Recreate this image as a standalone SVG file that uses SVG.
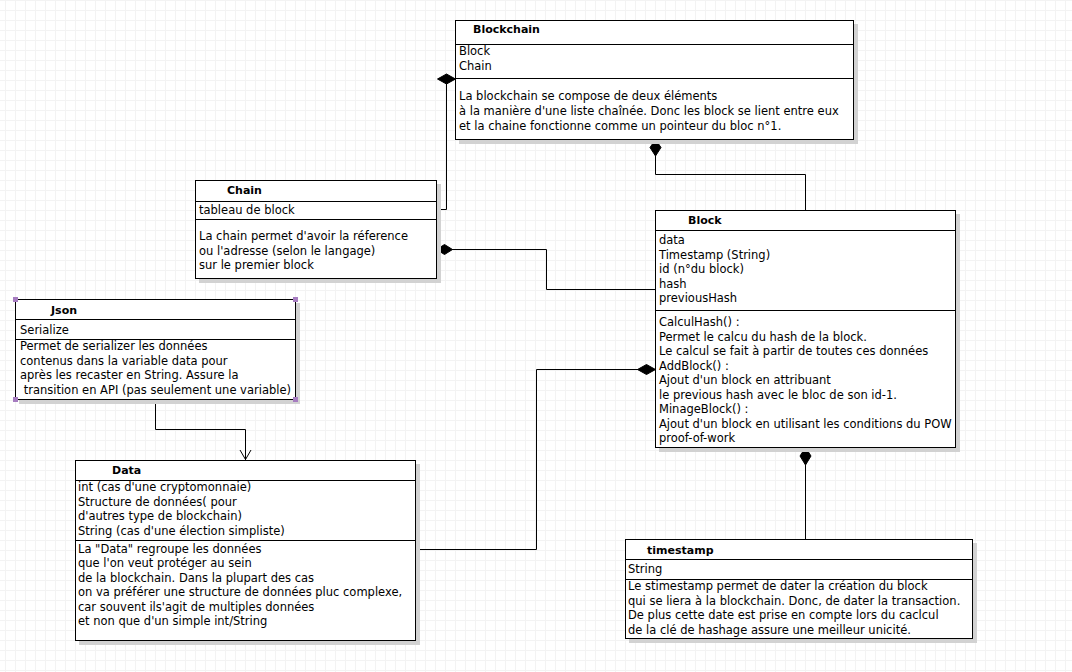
<svg xmlns="http://www.w3.org/2000/svg" width="1072" height="672" viewBox="0 0 1072 672">
  <style>
    text { font-family: "DejaVu Sans", "Liberation Sans", sans-serif; font-size: 11.5px; fill: #000; }
    .title { font-weight: bold; font-size: 11px; }
    .box { fill: #fff; stroke: #000; stroke-width: 1; }
    .shadow { fill: #d2d2d2; }
    .sep { stroke: #000; stroke-width: 1; fill: none; }
    .wire { stroke: #000; stroke-width: 1; fill: none; }
    .diamond { fill: #000; stroke: #000; stroke-width: 1; }
    .handle { fill: #a67cc0; }
  </style>
  <defs>
    <pattern id="grid" patternUnits="userSpaceOnUse" x="5" y="0" width="10" height="10">
      <path d="M0.5 0V10M0 0.5H10" stroke="#f3f3f3" stroke-width="1" fill="none"/>
    </pattern>
  </defs>

  <!-- canvas grid -->
  <rect width="1072" height="672" fill="#fff"/>
  <rect width="1072" height="672" fill="url(#grid)"/>

  <!-- connectors -->
  <g id="connectors">
    <!-- Blockchain ◆— Chain -->
    <polyline class="wire" points="446.5,83.5 446.5,209.5 436.5,209.5"/>
    <polygon class="diamond" points="437.5,79 446.5,74 455.5,79 446.5,84"/>
    <!-- Blockchain ◆— Block -->
    <polyline class="wire" points="655.5,156 655.5,174.5 805.5,174.5 805.5,210.5"/>
    <polygon class="diamond" points="655.5,139.5 661,147.5 655.5,156 650,147.5"/>
    <!-- Chain ◆— Block -->
    <polyline class="wire" points="452,249.5 546.5,249.5 546.5,289.5 655.5,289.5"/>
    <polygon class="diamond" points="436.5,249.5 444.5,244.5 452.5,249.5 444.5,254.5"/>
    <!-- Block ◆— Data -->
    <polyline class="wire" points="638,369.5 536.5,369.5 536.5,549.5 415.5,549.5"/>
    <polygon class="diamond" points="655.5,369.5 646.5,364.5 637.5,369.5 646.5,374.5"/>
    <!-- Block ◆— timestamp -->
    <polyline class="wire" points="805.5,465 805.5,539.5"/>
    <polygon class="diamond" points="805.5,447.5 811,456 805.5,465 800,456"/>
    <!-- Json → Data -->
    <polyline class="wire" points="155.5,399.5 155.5,429.5 245.5,429.5 245.5,460"/>
    <polyline class="wire" points="240,450 245.5,459.5 251,450"/>
  </g>

  <!-- Blockchain -->
  <g id="blockchain">
    <rect class="shadow" x="459" y="24" width="399" height="120"/>
    <rect class="box" x="455.5" y="20.5" width="398" height="119"/>
    <line class="sep" x1="455.5" y1="44.5" x2="853.5" y2="44.5"/>
    <line class="sep" x1="455.5" y1="78.5" x2="853.5" y2="78.5"/>
    <text class="title" x="473" y="33">Blockchain</text>
    <text x="459" y="55">Block</text>
    <text x="459" y="70">Chain</text>
    <text x="459" y="100">La blockchain se compose de deux éléments</text>
    <text x="459" y="115">à la manière d'une liste chaînée. Donc les block se lient entre eux</text>
    <text x="459" y="130">et la chaine fonctionne comme un pointeur du bloc n°1.</text>
  </g>

  <!-- Chain -->
  <g id="chain">
    <rect class="shadow" x="199" y="184" width="242" height="99"/>
    <rect class="box" x="195.5" y="180.5" width="241" height="98"/>
    <line class="sep" x1="195.5" y1="201.5" x2="436.5" y2="201.5"/>
    <line class="sep" x1="195.5" y1="219.5" x2="436.5" y2="219.5"/>
    <text class="title" x="227" y="194">Chain</text>
    <text x="199" y="213.5">tableau de block</text>
    <text x="199" y="240">La chain permet d'avoir la réference</text>
    <text x="199" y="254.5">ou l'adresse (selon le langage)</text>
    <text x="199" y="269">sur le premier block</text>
  </g>

  <!-- Block -->
  <g id="block">
    <rect class="shadow" x="659" y="214" width="301" height="238"/>
    <rect class="box" x="655.5" y="210.5" width="300" height="237"/>
    <line class="sep" x1="655.5" y1="230.5" x2="955.5" y2="230.5"/>
    <line class="sep" x1="655.5" y1="310.5" x2="955.5" y2="310.5"/>
    <text class="title" x="688" y="224">Block</text>
    <text x="659" y="244">data</text>
    <text x="659" y="258.5">Timestamp (String)</text>
    <text x="659" y="273">id (n°du block)</text>
    <text x="659" y="287.5">hash</text>
    <text x="659" y="302">previousHash</text>
    <text x="659" y="326">CalculHash() :</text>
    <text x="659" y="340.5">Permet le calcu du hash de la block.</text>
    <text x="659" y="355">Le calcul se fait à partir de toutes ces données</text>
    <text x="659" y="369.5">AddBlock() :</text>
    <text x="659" y="384">Ajout d'un block en attribuant</text>
    <text x="659" y="398.5">le previous hash avec le bloc de son id-1.</text>
    <text x="659" y="413">MinageBlock() :</text>
    <text x="659" y="427.5">Ajout d'un block en utilisant les conditions du POW</text>
    <text x="659" y="442">proof-of-work</text>
  </g>

  <!-- Json -->
  <g id="json">
    <rect class="shadow" x="19" y="303" width="281" height="101"/>
    <rect class="box" x="15.5" y="299.5" width="280" height="100"/>
    <line class="sep" x1="15.5" y1="319.5" x2="295.5" y2="319.5"/>
    <line class="sep" x1="15.5" y1="339.5" x2="295.5" y2="339.5"/>
    <text class="title" x="51" y="314">Json</text>
    <text x="20" y="333.5">Serialize</text>
    <text x="20" y="350">Permet de serializer les données</text>
    <text x="20" y="364.5">contenus dans la variable data pour</text>
    <text x="20" y="379">après les recaster en String. Assure la</text>
    <text x="20" y="393.5" xml:space="preserve"> transition en API (pas seulement une variable)</text>
    <!-- selection handles -->
    <rect class="handle" x="13" y="297" width="5" height="5"/>
    <rect class="handle" x="293" y="297" width="5" height="5"/>
    <rect class="handle" x="13" y="397" width="5" height="5"/>
    <rect class="handle" x="293" y="397" width="5" height="5"/>
  </g>

  <!-- Data -->
  <g id="data">
    <rect class="shadow" x="79" y="464" width="341" height="181"/>
    <rect class="box" x="75.5" y="460.5" width="340" height="180"/>
    <line class="sep" x1="75.5" y1="480.5" x2="415.5" y2="480.5"/>
    <line class="sep" x1="75.5" y1="540.5" x2="415.5" y2="540.5"/>
    <text class="title" x="112" y="474">Data</text>
    <text x="78" y="491">int (cas d'une cryptomonnaie)</text>
    <text x="78" y="505.5">Structure de données( pour</text>
    <text x="78" y="520">d'autres type de blockchain)</text>
    <text x="78" y="534.5">String (cas d'une élection simpliste)</text>
    <text x="78" y="552.5">La "Data" regroupe les données</text>
    <text x="78" y="567">que l'on veut protéger au sein</text>
    <text x="78" y="581.5">de la blockchain. Dans la plupart des cas</text>
    <text x="78" y="596">on va préférer une structure de données pluc complexe,</text>
    <text x="78" y="610.5">car souvent ils'agit de multiples données</text>
    <text x="78" y="625">et non que d'un simple int/String</text>
  </g>

  <!-- timestamp -->
  <g id="timestamp">
    <rect class="shadow" x="629" y="543" width="348" height="100"/>
    <rect class="box" x="625.5" y="539.5" width="347" height="99"/>
    <line class="sep" x1="625.5" y1="559.5" x2="972.5" y2="559.5"/>
    <line class="sep" x1="625.5" y1="579.5" x2="972.5" y2="579.5"/>
    <text class="title" x="647" y="553.5">timestamp</text>
    <text x="628" y="573">String</text>
    <text x="628" y="590">Le stimestamp permet de dater la création du block</text>
    <text x="628" y="604.5">qui se liera à la blockchain. Donc, de dater la transaction.</text>
    <text x="628" y="619">De plus cette date est prise en compte lors du caclcul</text>
    <text x="628" y="633.5">de la clé de hashage assure une meilleur unicité.</text>
  </g>
</svg>
